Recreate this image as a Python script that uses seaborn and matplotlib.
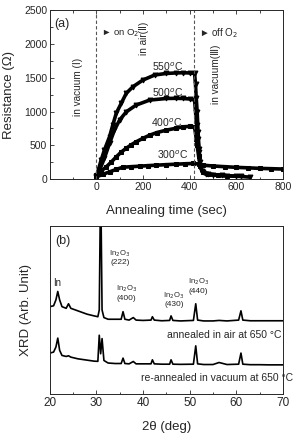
import numpy as np
import pandas as pd
import matplotlib
matplotlib.use("Agg")
import matplotlib.pyplot as plt
from matplotlib.ticker import MultipleLocator, NullLocator
import seaborn as sns

# ---- panel (a): resistance vs annealing time ----
t_550 = [0, 20, 34, 56, 70, 85, 106, 128, 156, 199, 250, 300, 340, 370, 400, 421,
         425, 428, 432, 436, 440, 445, 452, 470, 500, 560, 620, 660]
r_550 = [40, 281, 430, 626, 800, 975, 1120, 1270, 1365, 1465, 1540, 1563, 1570, 1573, 1570, 1563,
         1400, 1200, 1000, 700, 450, 250, 120, 70, 60, 50, 40, 30]
t_500 = [0, 13, 34, 56, 77, 99, 128, 170, 228, 300, 340, 370, 400, 421,
         425, 430, 435, 440, 445, 455, 480, 540, 600]
r_500 = [30, 133, 310, 530, 725, 873, 996, 1095, 1169, 1193, 1195, 1193, 1185, 1169,
         1000, 800, 600, 400, 200, 100, 70, 55, 45]
t_400 = [0, 20, 42, 64, 85, 106, 128, 150, 170, 200, 228, 260, 300, 340, 371, 400, 421,
         428, 432, 438, 445, 455, 480, 520, 560]
r_400 = [59, 120, 182, 255, 330, 400, 458, 510, 552, 605, 650, 690, 725, 752, 774, 780, 774,
         600, 500, 350, 200, 110, 80, 60, 50]
t_300 = [0, 30, 56, 85, 113, 150, 185, 220, 256, 300, 343, 380, 414, 440, 457,
         500, 550, 600, 650, 700, 750, 800]
r_300 = [34, 75, 108, 145, 177, 185, 192, 200, 207, 215, 222, 228, 232, 225, 207,
         195, 185, 175, 168, 160, 155, 150]

# ---- panel (b): XRD patterns ----
tth = [20, 20.8, 21.3, 21.7, 22.1, 22.6, 23.5, 24.0, 24.5, 26, 28, 29.5, 30.3, 30.6,
       30.9, 31.2, 31.6, 32.5, 34, 35.3, 35.7, 36.1, 37, 37.9, 38.5, 40, 41.7, 42.0,
       42.4, 44, 45.7, 46.0, 46.4, 48, 50.8, 51.3, 51.7, 53, 55, 56.3, 58, 60.5,
       61.0, 61.4, 63, 65, 67, 70]
xrd_air = [52, 52.5, 56, 61, 56, 52, 51, 53.7, 51, 49.5, 47.5, 46.5, 46, 50,
           130, 50, 45.5, 44.5, 44.5, 44.5, 49, 44.5, 44, 45.5, 44, 43.8, 44, 46,
           44, 43.6, 43.8, 46.5, 43.8, 43.5, 43.8, 53.7, 44, 43.5, 43.5, 43.8, 43.5, 44,
           49.5, 44, 43.6, 43.6, 43.6, 43.6]
xrd_vac = [24.4, 25, 28, 33.3, 26, 23, 22.4, 22.8, 22, 21, 20.2, 19.6, 19.5, 35,
           24, 33, 20, 18.5, 18.2, 18.2, 21.4, 18.2, 18, 19.4, 18, 18, 18, 20.4,
           18, 17.8, 17.8, 20.4, 17.8, 17.7, 17.8, 28.7, 18, 17.6, 17.6, 18.8, 17.6, 17.8,
           24.4, 17.8, 17.5, 17.5, 17.4, 17.4]

sns.set_theme(style="ticks")
plt.rcParams['font.family'] = ['Liberation Sans', 'DejaVu Sans']
plt.rcParams['xtick.direction'] = 'in'
plt.rcParams['ytick.direction'] = 'in'

fig = plt.figure(figsize=(2.95, 4.36), dpi=100)
ax1 = fig.add_axes([0.169, 0.589, 0.790, 0.388])
ax2 = fig.add_axes([0.169, 0.096, 0.790, 0.386])

curves = [(t_550, r_550, 'v'), (t_500, r_500, 'v'), (t_400, r_400, 's'), (t_300, r_300, 's')]
for tt, rr, mk in curves:
    df = pd.DataFrame({'t': tt, 'R': rr})
    sns.lineplot(data=df, x='t', y='R', ax=ax1, color='black', lw=2.6,
                 marker=mk, markersize=3.5, markeredgecolor='black', sort=False,
                 estimator=None, legend=False)

ax1.axvline(0, color='#555555', ls='--', lw=0.8, dashes=(3, 2))
ax1.axvline(417, color='#555555', ls='--', lw=0.8, dashes=(3, 2))
ax1.set_xlim(-200, 800)
ax1.set_ylim(0, 2500)
ax1.xaxis.set_major_locator(MultipleLocator(200))
ax1.xaxis.set_minor_locator(MultipleLocator(100))
ax1.yaxis.set_major_locator(MultipleLocator(500))
ax1.yaxis.set_minor_locator(MultipleLocator(250))
ax1.set_xticks([0, 200, 400, 600, 800])
ax1.tick_params(axis='both', which='major', labelsize=7.5, length=3, width=0.6, pad=2)
ax1.tick_params(axis='both', which='minor', length=1.8, width=0.6)
ax1.tick_params(axis='x', which='both', top=True)
ax1.set_xlabel('Annealing time (sec)', fontsize=9.5)
ax1.set_ylabel('Resistance (\u03a9)', fontsize=9.5)
ax1.xaxis.set_label_coords(0.5, -0.15)
ax1.xaxis.label.set_va('top')
ax1.yaxis.set_label_coords(-0.15, 0.5)

ax1.text(-180, 2300, '(a)', fontsize=9, va='center')
ax1.text(18, 2160, '\u25ba on O$_2$', fontsize=6.8, va='center')
ax1.text(440, 2160, '\u25ba off O$_2$', fontsize=7, va='center')
ax1.text(-80, 1800, 'in vacuum (\u2160)', fontsize=7.2, rotation=90, ha='center', va='top')
ax1.text(205, 2330, 'in air(\u2161)', fontsize=7.2, rotation=90, ha='center', va='top')
ax1.text(512, 1990, 'in vacuum(\u2162)', fontsize=7.2, rotation=90, ha='center', va='top')
for lab, x, y in [('550$^o$C', 305, 1660), ('500$^o$C', 305, 1270),
                  ('400$^o$C', 300, 828), ('300$^o$C', 327, 355)]:
    ax1.text(x, y, lab, fontsize=7.5, ha='center', va='center')
for s in ax1.spines.values():
    s.set_linewidth(0.7)

# ---- panel (b) ----
xrd = pd.DataFrame({'tth': tth, 'air': xrd_air, 'vac': xrd_vac})
sns.lineplot(data=xrd, x='tth', y='air', ax=ax2, color='black', lw=1.2, sort=False, estimator=None)
sns.lineplot(data=xrd, x='tth', y='vac', ax=ax2, color='black', lw=1.2, sort=False, estimator=None)
ax2.set_xlim(20, 70)
ax2.set_ylim(0, 100)
ax2.xaxis.set_major_locator(MultipleLocator(10))
ax2.xaxis.set_minor_locator(MultipleLocator(5))
ax2.yaxis.set_major_locator(NullLocator())
ax2.tick_params(axis='x', which='major', labelsize=8.5, length=3, width=0.6, pad=2)
ax2.tick_params(axis='x', which='minor', length=1.8, width=0.6)
ax2.set_xlabel('2\u03b8 (deg)', fontsize=9.5)
ax2.set_ylabel('XRD (Arb. Unit)', fontsize=9.5)
ax2.xaxis.set_label_coords(0.5, -0.16)
ax2.xaxis.label.set_va('top')
ax2.yaxis.set_label_coords(-0.075, 0.5)
for s in ax2.spines.values():
    s.set_linewidth(0.7)

ax2.text(21.2, 91, '(b)', fontsize=9, va='center')
ax2.text(21.5, 66, 'In', fontsize=7, ha='center', va='center')
for lab, x, y in [('(222)', 35.0, 78), ('(400)', 36.4, 57), ('(430)', 46.6, 53), ('(440)', 51.8, 61)]:
    ax2.text(x, y + 5.5, 'In$_2$O$_3$', fontsize=5.5, ha='center', va='center')
    ax2.text(x, y, lab, fontsize=6, ha='center', va='center')
ax2.text(69.8, 35, 'annealed in air at 650 \u00b0C', fontsize=7.5, ha='right', va='center')
ax2.text(72.2, 9.5, 're-annealed in vacuum at 650 \u00b0C', fontsize=7.5, ha='right',
         va='center', clip_on=False)

fig.savefig('out.png', dpi=100)
